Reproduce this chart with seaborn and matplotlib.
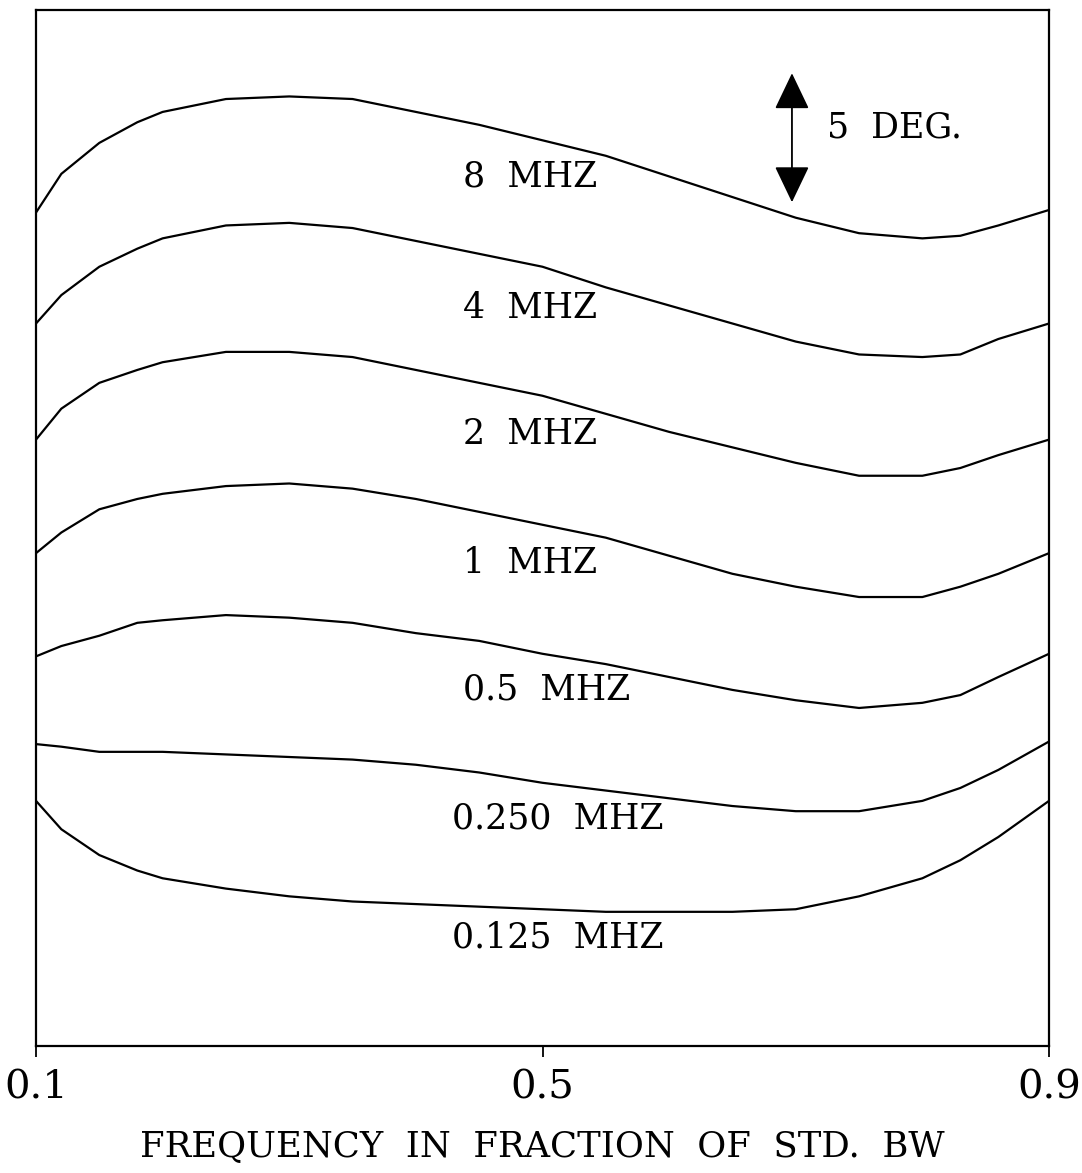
import numpy as np
import pandas as pd
import seaborn as sns
import matplotlib.pyplot as plt

# frequency (fraction of standard bandwidth)
freq = [0.10, 0.12, 0.15, 0.18, 0.20, 0.25, 0.30, 0.35, 0.40, 0.45,
        0.50, 0.55, 0.60, 0.65, 0.70, 0.75, 0.80, 0.83, 0.86, 0.90]

# phase (deg), curves stacked with an offset
ph_8mhz = [32.3, 33.8, 35.0, 35.8, 36.2, 36.7, 36.8, 36.7, 36.2, 35.7,
           35.1, 34.5, 33.7, 32.9, 32.1, 31.5, 31.3, 31.4, 31.8, 32.4]
ph_4mhz = [28.0, 29.1, 30.2, 30.9, 31.3, 31.8, 31.9, 31.7, 31.2, 30.7,
           30.2, 29.4, 28.7, 28.0, 27.3, 26.8, 26.7, 26.8, 27.4, 28.0]
ph_2mhz = [23.5, 24.7, 25.7, 26.2, 26.5, 26.9, 26.9, 26.7, 26.2, 25.7,
           25.2, 24.5, 23.8, 23.2, 22.6, 22.1, 22.1, 22.4, 22.9, 23.5]
ph_1mhz = [19.1, 19.9, 20.8, 21.2, 21.4, 21.7, 21.8, 21.6, 21.2, 20.7,
           20.2, 19.7, 19.0, 18.3, 17.8, 17.4, 17.4, 17.8, 18.3, 19.1]
ph_05mhz = [15.1, 15.5, 15.9, 16.4, 16.5, 16.7, 16.6, 16.4, 16.0, 15.7,
            15.2, 14.8, 14.3, 13.8, 13.4, 13.1, 13.3, 13.6, 14.3, 15.2]
ph_025mhz = [11.7, 11.6, 11.4, 11.4, 11.4, 11.3, 11.2, 11.1, 10.9, 10.6,
             10.2, 9.9, 9.6, 9.3, 9.1, 9.1, 9.5, 10.0, 10.7, 11.8]
ph_0125mhz = [9.5, 8.4, 7.4, 6.8, 6.5, 6.1, 5.8, 5.6, 5.5, 5.4,
              5.3, 5.2, 5.2, 5.2, 5.3, 5.8, 6.5, 7.2, 8.1, 9.5]

series_names = ["8  MHZ", "4  MHZ", "2  MHZ", "1  MHZ",
                "0.5  MHZ", "0.250  MHZ", "0.125  MHZ"]
series_vals = [ph_8mhz, ph_4mhz, ph_2mhz, ph_1mhz,
               ph_05mhz, ph_025mhz, ph_0125mhz]
# label anchor (left x, center y) in data units
label_x = [0.437, 0.437, 0.437, 0.437, 0.437, 0.4285, 0.4285]
label_y = [33.7, 28.6, 23.7, 18.7, 13.8, 8.8, 4.2]

rows = []
for name, vals in zip(series_names, series_vals):
    for f, v in zip(freq, vals):
        rows.append({"freq": f, "phase": v, "curve": name})
df = pd.DataFrame(rows)

sns.set_theme(style="white")
plt.rcParams["font.family"] = ["DejaVu Serif"]
plt.rcParams["text.color"] = "black"
plt.rcParams["axes.labelcolor"] = "black"

fig = plt.figure(figsize=(10.82, 11.73), dpi=100)
ax = fig.add_axes([36 / 1082, 1 - 1046 / 1173, 1013 / 1082, 1036 / 1173])

sns.lineplot(data=df, x="freq", y="phase", hue="curve",
             palette=["black"] * len(series_names), estimator=None,
             sort=False, legend=False, linewidth=1.6, ax=ax)

for name, lx, ly in zip(series_names, label_x, label_y):
    ax.text(lx, ly, name, fontsize=25, ha="left", va="center", color="black")

# 5 degree scale arrow
ax.annotate("", xy=(0.697, 37.7), xytext=(0.697, 32.7),
            arrowprops=dict(arrowstyle="<|-|>,head_length=1.15,head_width=0.55",
                            mutation_scale=20, lw=1.3, color="black",
                            shrinkA=0, shrinkB=0))
ax.text(0.725, 35.6, "5  DEG.", fontsize=25, ha="left", va="center")

ax.set_xlim(0.1, 0.9)
ax.set_ylim(0, 40.15)
ax.set_xticks([0.1, 0.5, 0.9])
ax.set_xticklabels(["0.1", "0.5", "0.9"])
ax.set_yticks([])
ax.tick_params(axis="x", direction="out", length=8, width=1.3,
               pad=9, labelsize=29, bottom=True, colors="black")
ax.set_xlabel("FREQUENCY  IN  FRACTION  OF  STD.  BW", fontsize=25.5,
              labelpad=17, color="black")
ax.set_ylabel("")
for sp in ax.spines.values():
    sp.set_color("black")
    sp.set_linewidth(1.6)

plt.savefig("out.png", dpi=100)
